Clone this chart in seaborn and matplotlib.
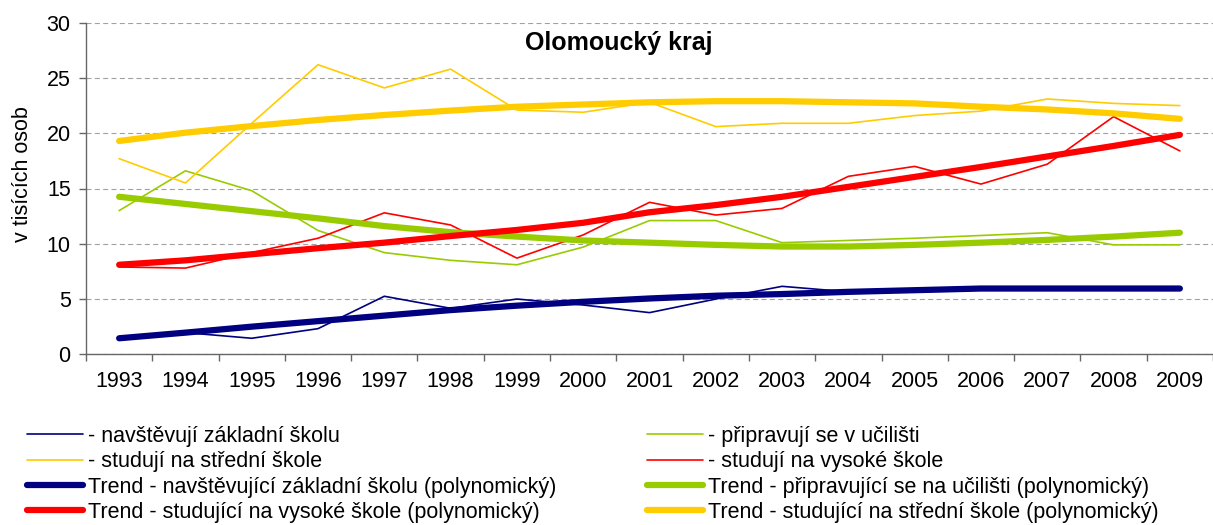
import numpy as np
import matplotlib
matplotlib.use('Agg')
import matplotlib.pyplot as plt
import seaborn as sns

years = list(range(1993, 2010))

# thin lines - actual values (thousands of persons)
zakladni = [1.45, 1.96, 1.45, 2.32, 5.25, 4.16, 5.00, 4.46, 3.77, 5.00, 6.15, 5.65, 5.80, 5.95, 5.95, 5.95, 5.95]
uciliste = [13.0, 16.6, 14.8, 11.2, 9.2, 8.5, 8.1, 9.7, 12.1, 12.1, 10.1, 10.3, 10.5, 10.75, 11.0, 9.9, 9.9]
stredni = [17.7, 15.5, 20.9, 26.2, 24.1, 25.8, 22.1, 21.9, 22.8, 20.6, 20.9, 20.9, 21.6, 22.0, 23.1, 22.7, 22.5]
vysoke = [7.9, 7.8, 9.2, 10.5, 12.8, 11.7, 8.7, 10.8, 13.75, 12.6, 13.2, 16.1, 17.0, 15.4, 17.2, 21.5, 18.4]

# thick lines - polynomial trends
trend_zakladni = [1.45, 1.96, 2.5, 3.0, 3.5, 4.0, 4.4, 4.75, 5.05, 5.3, 5.45, 5.65, 5.8, 5.95, 5.95, 5.95, 5.95]
trend_uciliste = [14.25, 13.6, 12.95, 12.3, 11.6, 11.05, 10.65, 10.3, 10.1, 9.9, 9.75, 9.75, 9.9, 10.1, 10.35, 10.65, 11.0]
trend_vysoke = [8.1, 8.5, 9.05, 9.6, 10.1, 10.7, 11.25, 11.9, 12.85, 13.5, 14.25, 15.15, 16.05, 16.95, 17.9, 18.85, 19.85]
trend_stredni = [19.3, 20.05, 20.65, 21.2, 21.65, 22.05, 22.4, 22.6, 22.8, 22.9, 22.9, 22.8, 22.7, 22.4, 22.15, 21.8, 21.3]

NAVY, GREEN, YELLOW, RED = '#000080', '#99CC00', '#FFCC00', '#FF0000'

sns.set_style('white')
plt.rcParams['font.family'] = ['Liberation Sans', 'DejaVu Sans']
plt.rcParams['text.color'] = 'black'
plt.rcParams['axes.labelcolor'] = 'black'
plt.rcParams['xtick.color'] = 'black'
plt.rcParams['ytick.color'] = 'black'

fig = plt.figure(figsize=(12.13, 5.25), dpi=100)
W, H = 1213, 525
ax = fig.add_axes([86 / W, 170.7 / H, 1127 / W, 331.6 / H])

x = np.arange(len(years))
thin = 1.2
thick = 4.5
series = [
    (zakladni, NAVY, thin, '- navštěvují základní školu'),
    (uciliste, GREEN, thin, '- připravují se v učilišti'),
    (stredni, YELLOW, thin, '- studují na střední škole'),
    (vysoke, RED, thin, '- studují na vysoké škole'),
    (trend_zakladni, NAVY, thick, 'Trend - navštěvující základní školu (polynomický)'),
    (trend_uciliste, GREEN, thick, 'Trend - připravující se na učilišti (polynomický)'),
    (trend_vysoke, RED, thick, 'Trend - studující na vysoké škole (polynomický)'),
    (trend_stredni, YELLOW, thick, 'Trend - studující na střední škole (polynomický)'),
]
for vals, col, lw, lab in series:
    sns.lineplot(x=x, y=vals, ax=ax, color=col, linewidth=lw, label=lab,
                 solid_capstyle='round', solid_joinstyle='round')

handles, labels = ax.get_legend_handles_labels()
ax.get_legend().remove()

ax.set_ylim(0, 30)
ax.set_xlim(-0.5, -0.5 + 1127 / 66.8)
ax.set_yticks(range(0, 31, 5))
ax.yaxis.grid(True, linestyle=(0, (4.5, 3)), color='#a0a0a0', linewidth=0.8)
ax.set_axisbelow(True)

ax.set_xticks(np.arange(-0.5, 17, 1))
ax.set_xticklabels([])
ax.set_xticks(x, minor=True)
ax.set_xticklabels([str(y) for y in years], minor=True)
ax.tick_params(axis='x', which='major', direction='out', length=5, width=1, color='#666666')
ax.tick_params(axis='x', which='minor', length=0, pad=12, labelsize=15.5)
ax.tick_params(axis='y', direction='out', length=5, width=1, color='#666666', pad=6, labelsize=15.5)
ax.tick_params(left=True, bottom=True, which='major')

for s in ['top', 'right']:
    ax.spines[s].set_visible(False)
for s in ['left', 'bottom']:
    ax.spines[s].set_color('#666666')
    ax.spines[s].set_linewidth(1)

ax.set_ylabel('v tisících osob', fontsize=15.5)
ax.yaxis.set_label_coords(-0.047, 0.544)

ax.text((619 - 86) / 1127, (H - 42.7 - 170.7) / 331.6, 'Olomoucký kraj',
        transform=ax.transAxes, ha='center', va='center', fontsize=18, fontweight='bold')

left_idx = [0, 2, 4, 6]
right_idx = [1, 3, 5, 7]
common = dict(frameon=False, fontsize=15.5, handlelength=2.6, handletextpad=0.25,
              labelspacing=0.2, borderpad=0, borderaxespad=0, loc='upper left')
leg1 = fig.legend([handles[i] for i in left_idx], [labels[i] for i in left_idx],
                  bbox_to_anchor=(27 / W, (H - 426) / H), **common)
leg2 = fig.legend([handles[i] for i in right_idx], [labels[i] for i in right_idx],
                  bbox_to_anchor=(647 / W, (H - 426) / H), **common)

plt.savefig('out.png', dpi=100)
